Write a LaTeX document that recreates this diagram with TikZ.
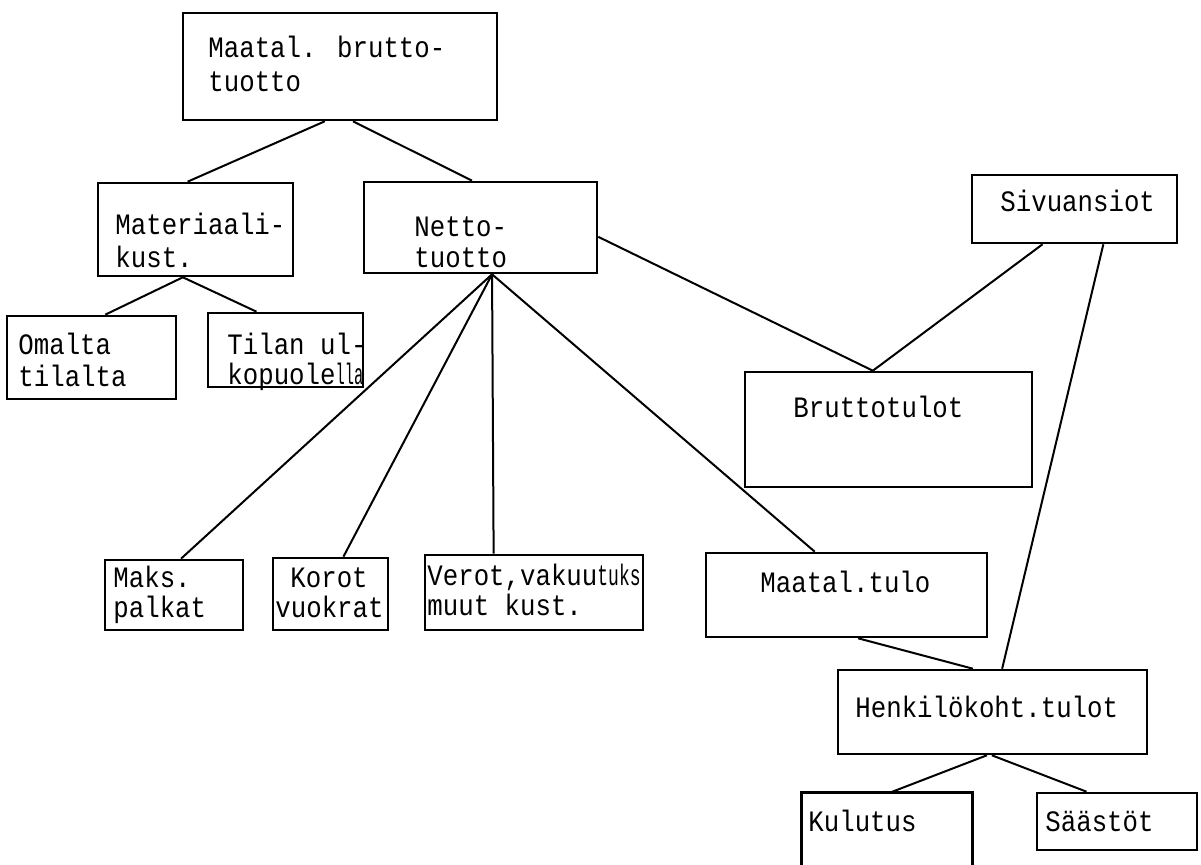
\documentclass[tikz,border=0pt]{standalone}
\usepackage{fontspec}
\usepackage{graphicx}
\newfontfamily\tw[FakeStretch=0.87]{Liberation Mono}
\usetikzlibrary{calc}
\begin{document}
\begin{tikzpicture}[x=0.5pt,y=-0.5pt,
  box/.style={draw=black,line width=1.3pt,inner sep=0pt,rectangle},
  openbox/.style={inner sep=0pt,rectangle},
  conn/.style={draw=black,line width=1pt},
  lbl/.style={anchor=base west,inner sep=0pt,font=\tw\fontsize{14.8}{17}\selectfont}]
\useasboundingbox[fill=white] (0,0) rectangle (1201,865);
% boxes
\node[box,minimum width=157pt,minimum height=53.5pt] (top) at (340,66.5) {};
\node[box,minimum width=97.5pt,minimum height=46.5pt] (mat) at (195.5,229.5) {};
\node[box,minimum width=116.5pt,minimum height=45.5pt] (net) at (480.5,227.5) {};
\node[box,minimum width=84.5pt,minimum height=41.5pt] (oma) at (91.5,357.5) {};
\node[box,minimum width=77.5pt,minimum height=37pt] (til) at (285.5,350) {};
\node[box,minimum width=102.5pt,minimum height=34pt] (siv) at (1074.5,209) {};
\node[box,minimum width=143.5pt,minimum height=57.5pt] (bru) at (888.5,429.5) {};
\node[box,minimum width=69pt,minimum height=35pt] (mak) at (174,595) {};
\node[box,minimum width=57.5pt,minimum height=36pt] (kor) at (330.5,594) {};
\node[box,minimum width=109pt,minimum height=37.5pt] (ver) at (534,592.5) {};
\node[box,minimum width=140.5pt,minimum height=42pt] (mtu) at (846.5,595) {};
\node[box,minimum width=154.5pt,minimum height=42pt] (hen) at (992.5,712) {};
\node[openbox,minimum width=85pt,minimum height=38pt] (kul) at (887,831) {};
\draw[line width=1.3pt] (kul.south west) -- (kul.north west) -- (kul.north east) -- (kul.south east);
\node[box,minimum width=80pt,minimum height=28.5pt] (saa) at (1117,821.5) {};
% texts
\node[lbl] (t1a) at (208,58) {Maatal. brutto-};
\node[lbl] (t1b) at (208,92) {tuotto};
\node[lbl] (t2a) at (115,235) {Materiaali-};
\node[lbl] (t2b) at (115,268) {kust.};
\node[lbl] (t3a) at (414,237) {Netto-};
\node[lbl] (t3b) at (414,268) {tuotto};
\node[lbl] (t4a) at (18,355) {Omalta};
\node[lbl] (t4b) at (18,387) {tilalta};
\node[lbl] (t5a) at (227,355) {Tilan ul-};
\node[lbl] (t5b) at (227,385) {kopuole\scalebox{0.6}[1]{lla}};
\node[lbl] (t6) at (1000,212) {Sivuansiot};
\node[lbl] (t7) at (793,418) {Bruttotulot};
\node[lbl] (t8a) at (113,588) {Maks.};
\node[lbl] (t8b) at (113,618) {palkat};
\node[lbl] (t9a) at (290,588) {Korot};
\node[lbl] (t9b) at (275,618) {vuokrat};
\node[lbl] (t10a) at (427,586) {Verot,vakuu\scalebox{0.7}[1]{tuks}};
\node[lbl] (t10b) at (427,616) {muut kust.};
\node[lbl] (t11) at (760,593) {Maatal.tulo};
\node[lbl] (t12) at (855,718) {Henkilökoht.tulot};
\node[lbl] (t13) at (808,832) {Kulutus};
\node[lbl] (t14) at (1045,832) {Säästöt};
% connectors
\draw[conn] ($(top.south west)!0.452!(top.south east)$) -- ($(mat.north west)!0.46!(mat.north east)$);
\draw[conn] ($(top.south west)!0.541!(top.south east)$) -- ($(net.north west)!0.464!(net.north east)$);
\draw[conn] ($(mat.south west)!0.436!(mat.south east)$) -- ($(oma.north west)!0.58!(oma.north east)$);
\draw[conn] ($(mat.south west)!0.436!(mat.south east)$) -- ($(til.north west)!0.316!(til.north east)$);
\draw[conn] ($(net.south west)!0.549!(net.south east)$) -- ($(mak.north west)!0.55!(mak.north east)$);
\draw[conn] ($(net.south west)!0.549!(net.south east)$) -- ($(kor.north west)!0.61!(kor.north east)$);
\draw[conn] ($(net.south west)!0.549!(net.south east)$) -- ($(ver.north west)!0.317!(ver.north east)$);
\draw[conn] ($(net.south west)!0.549!(net.south east)$) -- ($(mtu.north west)!0.388!(mtu.north east)$);
\draw[conn] ($(net.north east)!0.6!(net.south east)$) -- ($(bru.north west)!0.446!(bru.north east)$);
\draw[conn] ($(siv.south west)!0.346!(siv.south east)$) -- ($(bru.north west)!0.446!(bru.north east)$);
\draw[conn] ($(siv.south west)!0.639!(siv.south east)$) -- ($(hen.north west)!0.531!(hen.north east)$);
\draw[conn] ($(mtu.south west)!0.541!(mtu.south east)$) -- ($(hen.north west)!0.437!(hen.north east)$);
\draw[conn] ($(hen.south west)!0.482!(hen.south east)$) -- ($(kul.north west)!0.518!(kul.north east)$);
\draw[conn] ($(hen.south west)!0.498!(hen.south east)$) -- ($(saa.north west)!0.3125!(saa.north east)$);
\end{tikzpicture}
\end{document}
